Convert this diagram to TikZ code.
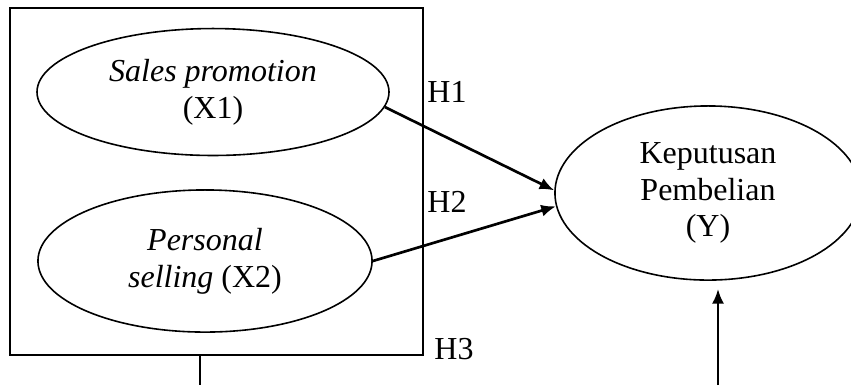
\documentclass[tikz,border=0pt]{standalone}
\usepackage{fontspec}
\setmainfont{Liberation Serif}
\usepackage{tikz}
\usetikzlibrary{arrows.meta,positioning,shapes.geometric}

\begin{document}
\begin{tikzpicture}[x=0.375pt,y=-0.375pt,>={Latex[length=5.5pt,width=4.5pt]},
  every node/.style={font=\fontsize{12}{13.8}\selectfont},
  var/.style={draw,ellipse,line width=0.6pt,inner sep=0pt,align=center},
  hyp/.style={inner sep=0pt}]
\path[use as bounding box,clip] (0,0) rectangle (851,385);

\node[draw,line width=0.6pt,minimum width=154.9pt,minimum height=130.1pt,inner sep=0pt] (box) at (216.5,181.5) {};
\node[var,minimum width=132pt,minimum height=47.6pt] (x1) at (213,92) {\textit{Sales promotion}\\(X1)};
\node[var,minimum width=125.3pt,minimum height=53.3pt] (x2) at (205,261) {\textit{Personal}\\\textit{selling} (X2)};
\node[var,minimum width=114.8pt,minimum height=65.3pt] (y) at (708,193) {Keputusan\\Pembelian\\(Y)};

\draw[->,line width=1pt] (x1.-5) -- (y.179);
\draw[->,line width=1pt] (x2.east) -- (y.185);

\node[hyp] (h1) at (447,92) {H1};
\node[hyp] (h2) at (447,202) {H2};
\node[hyp] (h3) at (454,349) {H3};

\coordinate (h3out) at (200,385);
\coordinate (yin) at (718,385);
\draw[line width=0.6pt] (box.south -| h3out) -- (h3out);
\draw[->,line width=1pt,shorten >=3pt] (yin) -- (yin |- y.south);
\end{tikzpicture}
\end{document}
